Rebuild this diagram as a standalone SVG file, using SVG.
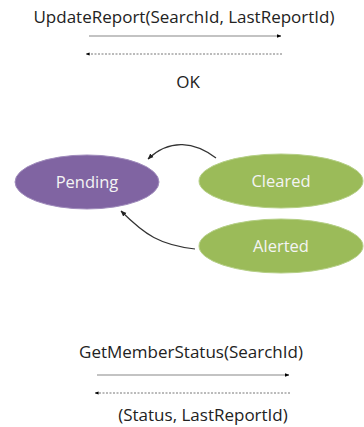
<svg xmlns="http://www.w3.org/2000/svg" width="364" height="427" viewBox="0 0 364 427">
<defs>
<marker id="ah" viewBox="0 0 10 10" refX="9" refY="5" markerWidth="4" markerHeight="4" orient="auto"><path d="M0,1 L10,5 L0,9 Z" fill="#000"/></marker>
<marker id="ah2" viewBox="0 0 10 10" refX="9" refY="5" markerWidth="5" markerHeight="5" orient="auto"><path d="M0,1 L10,5 L0,9 Z" fill="#222"/></marker>
</defs>
<style>
.lbl{font-family:"Open Sans","Liberation Sans",sans-serif;font-size:17px;fill:#222;text-anchor:middle}
.nt{font-family:"Open Sans","Liberation Sans",sans-serif;font-size:16.5px;fill:#f4f4f4;text-anchor:middle}
.solid{stroke:#888;stroke-width:1.2;fill:none}
.dash{stroke:#777;stroke-width:1;stroke-dasharray:2,1.5;fill:none}
.curve{stroke:#333;stroke-width:1.2;fill:none}
</style>
<g id="pending"><ellipse cx="87" cy="182" rx="72" ry="27" fill="#8064A2" stroke="#a08cbc" stroke-width="1"/><text class="nt" x="87" y="188">Pending</text></g>
<g id="cleared"><ellipse cx="281" cy="181" rx="82" ry="27" fill="#9BBB59" stroke="#b5cf86" stroke-width="1"/><text class="nt" x="281" y="187">Cleared</text></g>
<g id="alerted"><ellipse cx="281" cy="246" rx="82" ry="27" fill="#9BBB59" stroke="#b5cf86" stroke-width="1"/><text class="nt" x="281" y="252">Alerted</text></g>
<g id="connectors">
<line class="solid" x1="89" y1="36" x2="281" y2="36" marker-end="url(#ah)"/>
<line class="dash" x1="282" y1="54" x2="86" y2="54" marker-end="url(#ah)"/>
<line class="solid" x1="97" y1="375" x2="289" y2="375" marker-end="url(#ah)"/>
<line class="dash" x1="290" y1="393" x2="95" y2="393" marker-end="url(#ah)"/>
<path class="curve" d="M216,158 C195,142 170,138 148,159" marker-end="url(#ah2)"/>
<path class="curve" d="M195,249 C160,245 145,235 121,211" marker-end="url(#ah2)"/>
</g>
<text class="lbl" x="184" y="23">UpdateReport(SearchId, LastReportId)</text>
<text class="lbl" x="188" y="88">OK</text>
<text class="lbl" x="191" y="358">GetMemberStatus(SearchId)</text>
<text class="lbl" x="203" y="421">(Status, LastReportId)</text>
</svg>
